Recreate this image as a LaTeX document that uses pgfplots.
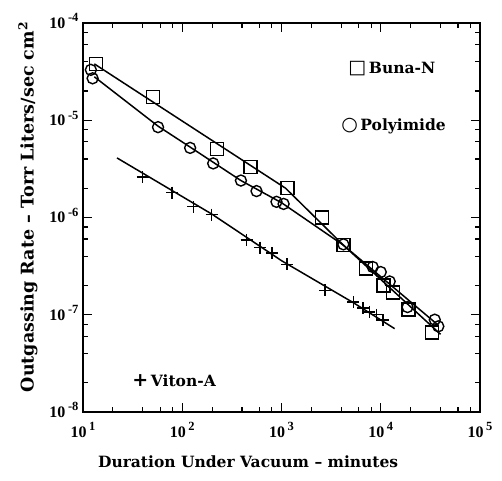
\documentclass[border=0pt]{standalone}
\usepackage{fontspec}
\setmainfont{DejaVu Serif}
\newfontfamily\tickfont{Liberation Serif}
\newfontfamily\symfont{DejaVu Sans}
\usepackage{pgfplots}
\pgfplotsset{compat=1.18}
\newcommand{\lab}{\fontsize{15.5}{18}\selectfont\bfseries}
\newcommand{\ylab}{\fontsize{17.5}{20}\selectfont\bfseries}
\newcommand{\tk}{\tickfont\fontsize{16}{18}\selectfont\bfseries}
\newcommand{\tl}[1]{\mbox{\tk 10\,\raisebox{6.5pt}{\fontsize{12.5}{13}\selectfont #1}}}
\newcommand{\sym}[1]{{\symfont\fontsize{19}{20}\selectfont\bfseries #1}}
\begin{document}
\begin{tikzpicture}
\begin{axis}[
  scale only axis, width=397pt, height=389pt,
  xmode=log, ymode=log,
  xmin=10, xmax=1e5, ymin=1e-8, ymax=1e-4,
  xtick={10,100,1000,10000,100000},
  xticklabels={\tl{1},\tl{2},\tl{3},\tl{4},\tl{5}},
  ytick={1e-8,1e-7,1e-6,1e-5,1e-4},
  yticklabels={\tl{-8},\tl{-7},\tl{-6},\tl{-5},\tl{-4}},
  minor xtick={20,40,60,80,200,400,600,800,2000,4000,6000,8000,20000,40000,60000,80000},
  minor ytick={2e-8,4e-8,6e-8,8e-8,2e-7,4e-7,6e-7,8e-7,2e-6,4e-6,6e-6,8e-6,2e-5,4e-5,6e-5,8e-5},
  xticklabel style={yshift=-7pt},
  yticklabel style={xshift=-1pt, yshift=2pt},
  major tick length=9pt, minor tick length=5pt,
  every tick/.style={black, line width=1.2pt},
  axis line style={line width=1.6pt},
  xlabel={Duration Under Vacuum -- minutes},
  ylabel={Outgassing Rate -- Torr Liters/sec cm\textsuperscript{2}},
  x label style={font=\lab, at={(axis description cs:0.416,-0.128)}, anchor=center},
  y label style={font=\ylab, at={(axis description cs:-0.139,0.527)}, anchor=center},
]
% Buna-N
\addplot[black, line width=1.5pt] coordinates {
  (13,3.8e-5) (1100,2.0e-6) (4200,5.2e-7) (40000,6.3e-8)};
\addplot[only marks, mark=square, mark size=6.5pt, mark options={black, line width=1.4pt}] coordinates {
  (13.5,3.8e-5) (51,1.74e-5) (224,5.1e-6) (486,3.3e-6) (1150,2.0e-6)
  (2570,1.0e-6) (4200,5.2e-7) (7100,3.0e-7) (10700,2.0e-7) (13200,1.7e-7)
  (19000,1.13e-7) (33000,6.6e-8)};
% Polyimide
\addplot[black, line width=1.5pt] coordinates {
  (13,2.8e-5) (57,8.7e-6) (120,5.3e-6) (390,2.4e-6) (1000,1.42e-6)
  (4200,5.2e-7) (38000,7.8e-8)};
\addplot[only marks, mark=o, mark size=5.5pt, mark options={black, line width=1.4pt}] coordinates {
  (12,3.3e-5) (12.5,2.7e-5) (57,8.5e-6) (120,5.2e-6) (205,3.6e-6)
  (390,2.4e-6) (560,1.87e-6) (890,1.45e-6) (1050,1.38e-6) (4200,5.3e-7)
  (8300,3.1e-7) (10000,2.75e-7) (12300,2.2e-7) (18600,1.2e-7)
  (35000,8.9e-8) (38000,7.6e-8)};
% Viton-A
\addplot[black, line width=1.5pt] coordinates {
  (22,4.1e-6) (200,1.08e-6) (1000,3.6e-7) (5300,1.33e-7) (13800,7.2e-8)};
\addplot[only marks, mark=+, mark size=6pt, mark options={black, line width=1.4pt}] coordinates {
  (40,2.6e-6) (79,1.8e-6) (129,1.29e-6) (198,1.07e-6) (445,5.9e-7)
  (605,4.9e-7) (800,4.3e-7) (1140,3.3e-7) (2750,1.78e-7) (5300,1.35e-7)
  (6600,1.17e-7) (7700,1.07e-7) (9100,1.0e-7) (10500,8.8e-8)};
% labels
\node[anchor=west, font=\lab, inner sep=0pt] at (rel axis cs:0.668,0.884) {\sym{□}\,Buna-N};
\node[anchor=west, font=\lab, inner sep=0pt] at (rel axis cs:0.650,0.735) {\sym{○}\,Polyimide};
\node[anchor=west, font=\lab, inner sep=0pt] at (rel axis cs:0.124,0.080) {\sym{+}\,Viton-A};
\end{axis}
\pgfresetboundingbox
\path[use as bounding box] (current axis.south west) ++(-83pt,-68pt) rectangle ++(502pt,480pt);
\end{tikzpicture}
\end{document}
